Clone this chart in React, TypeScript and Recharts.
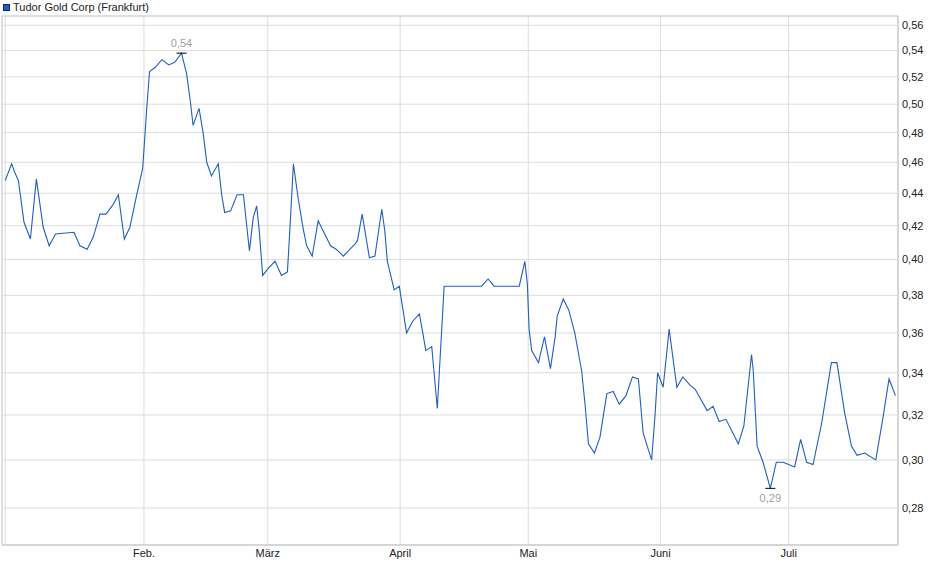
import React from "react";
import {
  LineChart,
  Line,
  CartesianGrid,
  XAxis,
  YAxis,
  ReferenceArea,
} from "recharts";

// Days counted from 1 Jan 2024 (0 = Jan 1).
const DAYS = [
  -1.5, 0.0, 0.8, 1.6, 2.9, 4.4, 5.8, 7.4, 8.8, 10.3, 14.6, 16.0, 17.7, 19.1,
  20.7, 22.1, 23.8, 25.0, 26.4, 27.7, 29.3, 30.7, 31.6, 32.3, 33.6, 35.2, 36.8,
  38.2, 39.8, 41.0, 41.9, 42.5, 43.9, 44.9, 45.7, 46.8, 48.4, 49.2, 49.9, 51.3,
  52.8, 54.3, 55.1, 55.7, 56.6, 57.4, 58.0, 58.8, 60.1, 61.7, 63.2, 64.6, 65.2,
  66.0, 67.1, 68.3, 69.1, 70.4, 71.8, 74.7, 76.0, 77.7, 80.4, 81.0, 82.1, 83.8,
  85.1, 85.9, 86.7, 87.4, 88.0, 88.6, 89.6, 90.8, 92.5, 93.9, 95.5, 96.3, 97.0,
  98.4, 99.7, 101.3, 110.1, 111.6, 113.0, 118.9, 120.2, 120.8, 121.2, 121.8,
  123.4, 124.8, 126.2, 127.3, 127.8, 129.2, 130.5, 131.9, 133.5, 134.3, 135.1,
  136.5, 137.8, 139.4, 140.9, 142.3, 143.9, 145.4, 146.8, 147.9, 148.7, 149.9,
  150.7, 151.3, 152.6, 154.0, 155.8, 157.2, 158.9, 160.1, 162.9, 164.3, 165.7,
  167.3, 170.2, 171.5, 173.3, 173.7, 174.6, 176.0, 177.7, 179.1, 180.7, 183.4,
  184.8, 186.2, 187.7, 189.7, 192.0, 193.3, 195.1, 196.7, 198.0, 199.8, 202.4,
  204.1, 205.5, 207.0,
];

// Closing prices in EUR, same order as DAYS.
const PRICES = [
  0.448, 0.459, 0.453, 0.448, 0.422, 0.412, 0.449, 0.419, 0.408, 0.415, 0.416,
  0.408, 0.406, 0.413, 0.427, 0.427, 0.433, 0.439, 0.412, 0.419, 0.439, 0.456,
  0.495, 0.524, 0.527, 0.533, 0.529, 0.531, 0.538, 0.522, 0.501, 0.485, 0.497,
  0.479, 0.46, 0.451, 0.459, 0.439, 0.428, 0.429, 0.439, 0.439, 0.419, 0.405,
  0.425, 0.432, 0.417, 0.391, 0.395, 0.399, 0.391, 0.393, 0.419, 0.459, 0.437,
  0.418, 0.408, 0.402, 0.423, 0.408, 0.406, 0.402, 0.409, 0.411, 0.427, 0.401,
  0.402, 0.416, 0.43, 0.417, 0.399, 0.393, 0.383, 0.385, 0.36, 0.366, 0.37,
  0.36, 0.351, 0.353, 0.323, 0.385, 0.385, 0.389, 0.385, 0.385, 0.399, 0.386,
  0.362, 0.351, 0.345, 0.358, 0.342, 0.358, 0.369, 0.378, 0.372, 0.36, 0.341,
  0.325, 0.307, 0.303, 0.31, 0.33, 0.331, 0.325, 0.329, 0.338, 0.337, 0.312,
  0.307, 0.3, 0.32, 0.34, 0.333, 0.362, 0.333, 0.338, 0.334, 0.332, 0.322,
  0.324, 0.317, 0.318, 0.307, 0.315, 0.349, 0.341, 0.306, 0.299, 0.288, 0.299,
  0.299, 0.297, 0.309, 0.299, 0.298, 0.316, 0.345, 0.345, 0.321, 0.306, 0.302,
  0.303, 0.3, 0.319, 0.337, 0.329,
];

// first entry is the unlabelled gridline at the start of the series
const X_TICKS = [-1.5, 31, 60, 91, 121, 152, 182];
const X_LABELS = ["", "Feb.", "März", "April", "Mai", "Juni", "Juli"];

const Y_TICKS = [
  0.28, 0.3, 0.32, 0.34, 0.36, 0.38, 0.4, 0.42, 0.44, 0.46, 0.48, 0.5, 0.52,
  0.54, 0.56,
];

const X_DOMAIN: [number, number] = [-2.25, 207.6];
const Y_DOMAIN: [number, number] = [0.2655, 0.5675];

const LINE_COLOR = "#1f5fbf";
const FONT = '"Liberation Sans", Arial, sans-serif';

const fmt = (v: number) => v.toFixed(2).replace(".", ",");

const data = DAYS.map((day, i) => ({ day, price: PRICES[i] }));

const maxIdx = PRICES.indexOf(Math.max(...PRICES));
const minIdx = PRICES.indexOf(Math.min(...PRICES));

function ExtremeDot(props: any) {
  const { cx, cy, index } = props;
  if (index !== maxIdx && index !== minIdx) return <g key={index} />;
  const isMax = index === maxIdx;
  return (
    <g key={index}>
      <line x1={cx - 5} x2={cx + 5} y1={cy} y2={cy} stroke="#000" strokeWidth={1} />
      <text
        x={cx}
        y={isMax ? cy - 6 : cy + 14}
        textAnchor="middle"
        fontSize={11}
        fontFamily={FONT}
        fill="#a0a0a0"
      >
        {fmt(PRICES[index])}
      </text>
    </g>
  );
}

export default function App() {
  return (
    <div
      style={{
        position: "absolute",
        left: 0,
        top: 0,
        width: 940,
        height: 579,
        background: "#fff",
        fontFamily: FONT,
      }}
    >
      <div
        style={{
          position: "absolute",
          left: 3,
          top: 4,
          width: 5,
          height: 5,
          background: LINE_COLOR,
          border: "1px solid #0d2f6e",
        }}
      />
      <div
        style={{
          position: "absolute",
          left: 13,
          top: 0,
          fontSize: 11,
          lineHeight: "14px",
          color: "#222",
        }}
      >
        Tudor Gold Corp (Frankfurt)
      </div>
      <LineChart
        width={940}
        height={579}
        data={data}
        margin={{ top: 16, right: 2, left: 2, bottom: 14 }}
      >
        <CartesianGrid stroke="#dcdcdc" strokeWidth={1} />
        <ReferenceArea
          x1={X_DOMAIN[0]}
          x2={X_DOMAIN[1]}
          y1={Y_DOMAIN[0]}
          y2={Y_DOMAIN[1]}
          fill="none"
          stroke="#cfcfcf"
          strokeWidth={1}
          ifOverflow="visible"
        />
        <XAxis
          dataKey="day"
          type="number"
          domain={X_DOMAIN}
          ticks={X_TICKS}
          tickFormatter={(d: number) => X_LABELS[X_TICKS.indexOf(d)]}
          allowDataOverflow
          height={20}
          tickLine={false}
          tickSize={0}
          tickMargin={4}
          axisLine={{ stroke: "#cfcfcf" }}
          tick={{ fill: "#222", fontSize: 11, fontFamily: FONT }}
        />
        <YAxis
          orientation="right"
          type="number"
          scale="log"
          domain={Y_DOMAIN}
          ticks={Y_TICKS}
          allowDataOverflow
          width={40}
          tickLine={false}
          tickSize={0}
          tickMargin={4}
          axisLine={{ stroke: "#cfcfcf" }}
          tickFormatter={fmt}
          tick={{ fill: "#222", fontSize: 11, fontFamily: FONT, textAnchor: "start" }}
        />
        <Line
          type="linear"
          dataKey="price"
          stroke={LINE_COLOR}
          strokeWidth={1.1}
          dot={ExtremeDot}
          activeDot={false}
          isAnimationActive={false}
        />
      </LineChart>
    </div>
  );
}
